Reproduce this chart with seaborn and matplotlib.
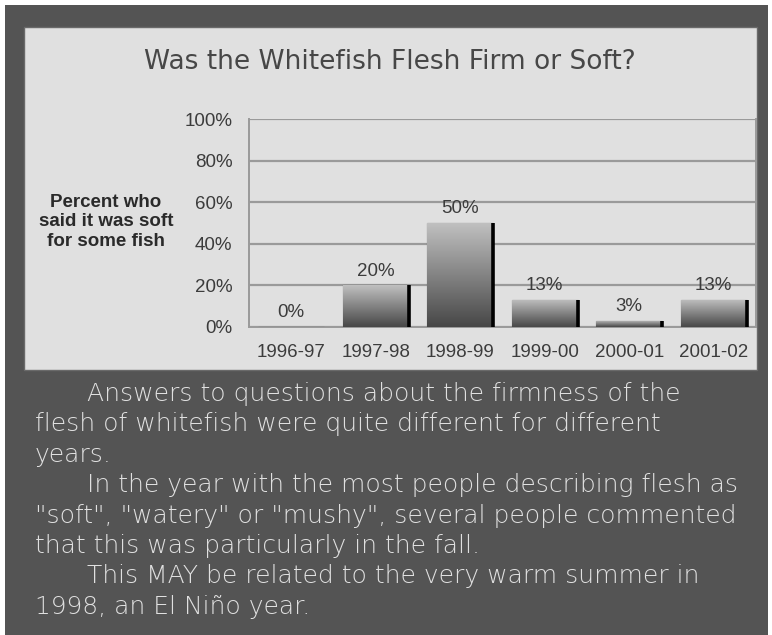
import numpy as np
import pandas as pd
import matplotlib
matplotlib.use("Agg")
import matplotlib.pyplot as plt
import seaborn as sns
from matplotlib.patches import Rectangle

seasons = ["1996-97", "1997-98", "1998-99", "1999-00", "2000-01", "2001-02"]
percent_soft = [0, 20, 50, 13, 3, 13]
bar_labels = ["0%", "20%", "50%", "13%", "3%", "13%"]
y_ticks = [0, 20, 40, 60, 80, 100]
y_tick_labels = ["0%", "20%", "40%", "60%", "80%", "100%"]
title = "Was the Whitefish Flesh Firm or Soft?"
y_label = "Percent who\nsaid it was soft\nfor some fish"
body_lines = [
    ("Answers to questions about the firmness of the", True),
    ("flesh of whitefish were quite different for different", False),
    ("years.", False),
    ("In the year with the most people describing flesh as", True),
    ("\"soft\", \"watery\" or \"mushy\", several people commented", False),
    ("that this was particularly in the fall.", False),
    ("This MAY be related to the very warm summer in", True),
    ("1998, an El Niño year.", False),
]

W, H = 772, 635
sns.set_theme(style="white")
plt.rcParams["font.family"] = ["Liberation Sans", "DejaVu Sans"]

fig = plt.figure(figsize=(W / 100, H / 100), dpi=100)
fig.patch.set_facecolor("white")

def fx(px):
    return px / W

def fy(py):
    return 1 - py / H

# dark frame
fig.patches.append(Rectangle((fx(5), fy(635)), fx(763), 630 / H, transform=fig.transFigure,
                             facecolor="#545454", edgecolor="none", zorder=0))
# light chart panel
fig.patches.append(Rectangle((fx(24), fy(370)), fx(733), 343 / H, transform=fig.transFigure,
                             facecolor="#e0e0e0", edgecolor="#6a6a6a", linewidth=1, zorder=1))

ax = fig.add_axes([fx(249), fy(327), fx(756 - 249), (327 - 119) / H])
ax.set_facecolor("#e0e0e0")
ax.set_zorder(2)

df = pd.DataFrame({"season": seasons, "pct": percent_soft})
sns.barplot(data=df, x="season", y="pct", ax=ax, color="#888888", width=0.78,
            edgecolor="#3a3a3a", linewidth=0.8, zorder=3)

ax.set_ylim(0, 100)
ax.set_xlim(-0.5, len(seasons) - 0.5)
ax.set_yticks(y_ticks)
ax.set_yticklabels(y_tick_labels)
ax.set_xlabel("")
ax.set_ylabel("")
ax.yaxis.grid(True, color="#9a9a9a", linewidth=1.6)
ax.set_axisbelow(True)
for side in ["left", "bottom", "right"]:
    ax.spines[side].set_visible(True)
    ax.spines[side].set_color("#9a9a9a")
    ax.spines[side].set_linewidth(1.4)
ax.spines["top"].set_visible(False)

tick_color = "#3c3c3c"
ax.set_xticks(np.arange(len(seasons)))
ax.set_xticklabels(seasons)
ax.set_xticks(np.arange(-0.5, len(seasons)), minor=True)
ax.tick_params(axis="x", which="major", length=0, pad=12, labelsize=13.5, labelcolor=tick_color)
ax.tick_params(axis="x", which="minor", length=5, width=1.2, color="#9a9a9a", direction="out")
ax.tick_params(axis="y", length=6, width=1.2, color="#9a9a9a", direction="out", pad=6,
               labelsize=13.5, labelcolor=tick_color)

# gradient fill on bars + dark right shadow edge
grad = np.linspace(0, 1, 256).reshape(-1, 1)
cmap = matplotlib.colors.LinearSegmentedColormap.from_list("g", ["#c0c0c0", "#474747"])
for p, lab in zip(ax.patches, bar_labels):
    x0, y0 = p.get_x(), p.get_y()
    w, h = p.get_width(), p.get_height()
    if h > 0:
        im = ax.imshow(grad, cmap=cmap, aspect="auto",
                       extent=(x0, x0 + w, y0, y0 + h), origin="upper", zorder=3.5)
        im.set_clip_path(p)
        ax.plot([x0 + w, x0 + w], [y0, y0 + h], color="#000000", linewidth=2.6,
                solid_capstyle="butt", zorder=4)
    ax.annotate(lab, (x0 + w / 2, y0 + h), xytext=(0, 4), textcoords="offset points",
                ha="center", va="bottom", fontsize=13.5, color=tick_color, zorder=5)
ax.set_xlim(-0.5, len(seasons) - 0.5)
ax.set_ylim(0, 100)

fig.text(fx(390), fy(62), title, ha="center", va="center", fontsize=19,
         color="#474747", family=["DejaVu Sans"], zorder=5)
fig.text(fx(106), fy(222), y_label, ha="center", va="center", fontsize=13.5,
         fontweight="bold", color="#2a2a2a", linespacing=1.22, zorder=5)

y = 394
for line, indent in body_lines:
    fig.text(fx(87 if indent else 35), fy(y), line, ha="left", va="center",
             fontsize=18, color="#e0e0e0", family=["DejaVu Sans"], fontweight="light",
             zorder=5)
    y += 30.4

fig.savefig("out.png", dpi=100, facecolor=fig.get_facecolor())
